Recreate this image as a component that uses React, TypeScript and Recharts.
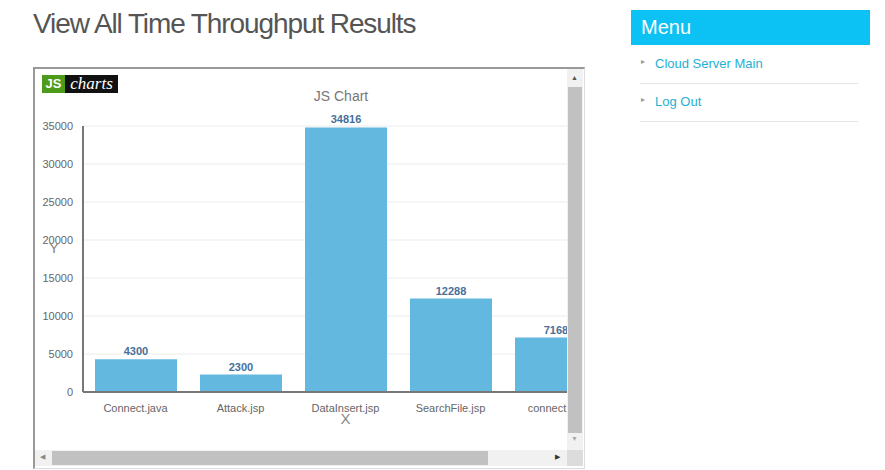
import { Bar, BarChart, CartesianGrid, LabelList, XAxis, YAxis } from "recharts";

const files = ["Connect.java", "Attack.jsp", "DataInsert.jsp", "SearchFile.jsp", "connect.jsp"];
const throughput = [4300, 2300, 34816, 12288, 7168];
const yTicks = [0, 5000, 10000, 15000, 20000, 25000, 30000, 35000];
const menuItems = ["Cloud Server Main", "Log Out"];

const data = files.map((name, i) => ({ name, value: throughput[i] }));

const FONT = '"Liberation Sans", Arial, sans-serif';

function ThroughputChart() {
  return (
    <BarChart
      width={600}
      height={381}
      data={data}
      margin={{ top: 57, right: 27, left: 0, bottom: 0 }}
      style={{ fontFamily: FONT }}
    >
      <CartesianGrid vertical={false} stroke="#ebebeb" />
      <XAxis
        dataKey="name"
        height={58}
        interval={0}
        tickLine={false}
        tickMargin={6}
        axisLine={{ stroke: "#777", strokeWidth: 2 }}
        tick={{ fontSize: 11, fill: "#666" }}
        label={{ value: "X", position: "insideBottom", offset: 26, fill: "#888", fontSize: 15 }}
      />
      <YAxis
        width={48}
        domain={[0, 35000]}
        ticks={yTicks}
        tickLine={false}
        tickMargin={4}
        axisLine={{ stroke: "#777", strokeWidth: 2 }}
        tick={{ fontSize: 11, fill: "#666" }}
        label={{ value: "Y", position: "insideLeft", offset: 14, dy: -11, fill: "#888", fontSize: 15 }}
      />
      <Bar dataKey="value" fill="#63b8df" barSize={82} isAnimationActive={false}>
        <LabelList
          dataKey="value"
          position="top"
          offset={4}
          style={{ fontSize: 11, fontWeight: "bold", fill: "#46709b" }}
        />
      </Bar>
    </BarChart>
  );
}

export default function App() {
  return (
    <div
      style={{
        position: "absolute",
        left: 0,
        top: 0,
        width: 885,
        height: 470,
        background: "#fff",
        fontFamily: FONT,
        overflow: "hidden",
      }}
    >
      <div
        style={{
          position: "absolute",
          left: 33,
          top: 8,
          fontSize: 28,
          letterSpacing: -1.1,
          color: "#555",
          whiteSpace: "nowrap",
        }}
      >
        View All Time Throughput Results
      </div>

      {/* chart box with scrollbars */}
      <div
        style={{
          position: "absolute",
          left: 33,
          top: 67,
          width: 549,
          height: 399,
          borderTop: "2px solid #999",
          borderLeft: "2px solid #999",
          borderRight: "1px solid #ddd",
          borderBottom: "1px solid #ddd",
        }}
      >
        <div style={{ position: "absolute", left: 0, top: 0, width: 532, height: 381, overflow: "hidden" }}>
          <ThroughputChart />
          <div style={{ position: "absolute", left: 7, top: 6, height: 18, display: "flex" }}>
            <div
              style={{
                background: "#4e9a1a",
                color: "#fff",
                fontWeight: "bold",
                fontSize: 13,
                width: 23,
                lineHeight: "18px",
                textAlign: "center",
              }}
            >
              JS
            </div>
            <div
              style={{
                background: "#111",
                color: "#fff",
                fontStyle: "italic",
                fontFamily: '"Liberation Serif", serif',
                fontSize: 17,
                width: 53,
                lineHeight: "18px",
                textAlign: "center",
              }}
            >
              charts
            </div>
          </div>
          <div
            style={{
              position: "absolute",
              left: 306,
              top: 19,
              width: 0,
              display: "flex",
              justifyContent: "center",
              whiteSpace: "nowrap",
              fontSize: 14,
              color: "#777",
            }}
          >
            JS Chart
          </div>
        </div>
        {/* vertical scrollbar */}
        <div style={{ position: "absolute", left: 532, top: 0, width: 16, height: 381, background: "#f1f1f1" }}>
          <div style={{ position: "absolute", left: 4, top: 5, fontSize: 7, color: "#555" }}>▲</div>
          <div style={{ position: "absolute", left: 1, top: 18, width: 14, height: 346, background: "#c1c1c1" }} />
          <div style={{ position: "absolute", left: 4, top: 366, fontSize: 7, color: "#aaa" }}>▼</div>
        </div>
        {/* horizontal scrollbar */}
        <div style={{ position: "absolute", left: 0, top: 381, width: 532, height: 16, background: "#f1f1f1" }}>
          <div style={{ position: "absolute", left: 5, top: 3, fontSize: 7, color: "#888" }}>◀</div>
          <div style={{ position: "absolute", left: 17, top: 1, width: 436, height: 14, background: "#c1c1c1" }} />
          <div style={{ position: "absolute", left: 520, top: 3, fontSize: 7, color: "#333" }}>▶</div>
        </div>
        <div style={{ position: "absolute", left: 532, top: 381, width: 16, height: 16, background: "#dcdcdc" }} />
      </div>

      {/* side menu */}
      <div
        style={{
          position: "absolute",
          left: 631,
          top: 10,
          width: 229,
          height: 35,
          background: "#0cc1f3",
          color: "#fff",
          fontSize: 20,
          lineHeight: "35px",
          paddingLeft: 10,
        }}
      >
        Menu
      </div>
      {menuItems.map((item, i) => (
        <div
          key={item}
          style={{
            position: "absolute",
            left: 640,
            top: 46 + i * 38,
            width: 218,
            height: 37,
            borderBottom: "1px solid #e6e6e6",
          }}
        >
          <span style={{ position: "absolute", left: 1, top: 11, fontSize: 8, color: "#999" }}>▸</span>
          <span style={{ position: "absolute", left: 15, top: 10, fontSize: 13, color: "#1fb0d4" }}>{item}</span>
        </div>
      ))}
    </div>
  );
}
